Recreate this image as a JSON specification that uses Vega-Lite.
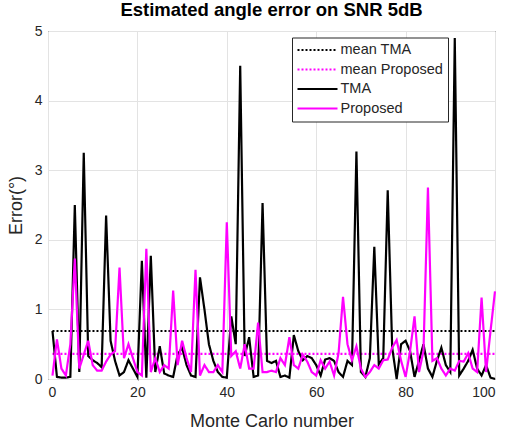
{
  "$schema": "https://vega.github.io/schema/vega-lite/v6.json",
  "width": 447,
  "height": 348,
  "autosize": {"type": "none"},
  "padding": {"left": 48, "top": 31, "right": 14, "bottom": 53},
  "background": "white",
  "title": {"text": "Estimated angle error on SNR 5dB", "font": "Liberation Sans", "fontSize": 18.5, "fontWeight": "bold", "color": "black", "offset": 5, "anchor": "middle"},
  "config": {
    "view": {"stroke": "black", "strokeWidth": 1},
    "axis": {"labelFont": "Liberation Sans", "titleFont": "Liberation Sans", "labelFontSize": 14, "titleFontSize": 18, "titleFontWeight": "normal", "labelColor": "#262626", "titleColor": "#262626", "gridColor": "#e3e3e3", "domain": false, "ticks": false, "labelPadding": 6}
  },
  "datasets": {
    "runs": [
      {"n":1,"TMA":0.69,"Proposed":0.05},{"n":2,"TMA":0.03,"Proposed":0.57},{"n":3,"TMA":0.02,"Proposed":0.15},{"n":4,"TMA":0.02,"Proposed":0.05},{"n":5,"TMA":0.03,"Proposed":0.5},
      {"n":6,"TMA":2.5,"Proposed":1.73},{"n":7,"TMA":0.1,"Proposed":0.15},{"n":8,"TMA":3.25,"Proposed":0.35},{"n":9,"TMA":0.33,"Proposed":0.55},{"n":10,"TMA":0.27,"Proposed":0.2},
      {"n":11,"TMA":0.23,"Proposed":0.12},{"n":12,"TMA":0.17,"Proposed":0.12},{"n":13,"TMA":2.35,"Proposed":0.25},{"n":14,"TMA":0.55,"Proposed":0.35},{"n":15,"TMA":0.26,"Proposed":0.4},
      {"n":16,"TMA":0.05,"Proposed":1.6},{"n":17,"TMA":0.1,"Proposed":0.3},{"n":18,"TMA":0.27,"Proposed":0.5},{"n":19,"TMA":0.15,"Proposed":0.3},{"n":20,"TMA":0.03,"Proposed":0.1},
      {"n":21,"TMA":1.7,"Proposed":0.05},{"n":22,"TMA":0.02,"Proposed":1.87},{"n":23,"TMA":1.77,"Proposed":0.1},{"n":24,"TMA":0.1,"Proposed":0.3},{"n":25,"TMA":0.47,"Proposed":0.1},
      {"n":26,"TMA":0.08,"Proposed":0.2},{"n":27,"TMA":0.05,"Proposed":0.15},{"n":28,"TMA":0.03,"Proposed":1.27},{"n":29,"TMA":0.35,"Proposed":0.2},{"n":30,"TMA":0.45,"Proposed":0.55},
      {"n":31,"TMA":0.2,"Proposed":0.3},{"n":32,"TMA":0.05,"Proposed":0.1},{"n":33,"TMA":0.03,"Proposed":1.57},{"n":34,"TMA":1.46,"Proposed":0.05},{"n":35,"TMA":1.0,"Proposed":0.2},
      {"n":36,"TMA":0.5,"Proposed":0.1},{"n":37,"TMA":0.26,"Proposed":0.1},{"n":38,"TMA":0.1,"Proposed":0.2},{"n":39,"TMA":0.03,"Proposed":0.1},{"n":40,"TMA":0.02,"Proposed":2.25},
      {"n":41,"TMA":0.9,"Proposed":0.33},{"n":42,"TMA":0.5,"Proposed":0.4},{"n":43,"TMA":4.5,"Proposed":0.15},{"n":44,"TMA":0.33,"Proposed":0.5},{"n":45,"TMA":0.6,"Proposed":0.15},
      {"n":46,"TMA":0.03,"Proposed":0.15},{"n":47,"TMA":0.05,"Proposed":0.81},{"n":48,"TMA":2.53,"Proposed":0.1},{"n":49,"TMA":0.26,"Proposed":0.1},{"n":50,"TMA":0.23,"Proposed":0.12},
      {"n":51,"TMA":0.26,"Proposed":0.1},{"n":52,"TMA":0.03,"Proposed":0.3},{"n":53,"TMA":0.05,"Proposed":0.2},{"n":54,"TMA":0.02,"Proposed":0.6},{"n":55,"TMA":0.63,"Proposed":0.2},
      {"n":56,"TMA":0.4,"Proposed":0.15},{"n":57,"TMA":0.27,"Proposed":0.35},{"n":58,"TMA":0.33,"Proposed":0.25},{"n":59,"TMA":0.3,"Proposed":0.1},{"n":60,"TMA":0.2,"Proposed":0.05},
      {"n":61,"TMA":0.05,"Proposed":0.27},{"n":62,"TMA":0.28,"Proposed":0.15},{"n":63,"TMA":0.3,"Proposed":0.25},{"n":64,"TMA":0.26,"Proposed":0.05},{"n":65,"TMA":0.1,"Proposed":0.37},
      {"n":66,"TMA":0.03,"Proposed":1.18},{"n":67,"TMA":0.26,"Proposed":0.5},{"n":68,"TMA":0.2,"Proposed":0.27},{"n":69,"TMA":3.27,"Proposed":0.47},{"n":70,"TMA":0.1,"Proposed":0.15},
      {"n":71,"TMA":0.03,"Proposed":0.03},{"n":72,"TMA":0.3,"Proposed":0.1},{"n":73,"TMA":1.9,"Proposed":0.2},{"n":74,"TMA":0.21,"Proposed":0.15},{"n":75,"TMA":0.3,"Proposed":0.27},
      {"n":76,"TMA":2.71,"Proposed":0.28},{"n":77,"TMA":0.45,"Proposed":0.45},{"n":78,"TMA":0.0,"Proposed":0.56},{"n":79,"TMA":0.5,"Proposed":0.26},{"n":80,"TMA":0.55,"Proposed":0.03},
      {"n":81,"TMA":0.4,"Proposed":0.4},{"n":82,"TMA":0.03,"Proposed":0.9},{"n":83,"TMA":0.26,"Proposed":0.1},{"n":84,"TMA":0.5,"Proposed":0.4},{"n":85,"TMA":0.15,"Proposed":2.75},
      {"n":86,"TMA":0.03,"Proposed":0.26},{"n":87,"TMA":0.26,"Proposed":0.3},{"n":88,"TMA":0.45,"Proposed":0.15},{"n":89,"TMA":0.2,"Proposed":0.05},{"n":90,"TMA":0.1,"Proposed":0.15},
      {"n":91,"TMA":4.9,"Proposed":0.12},{"n":92,"TMA":0.05,"Proposed":0.26},{"n":93,"TMA":0.15,"Proposed":0.25},{"n":94,"TMA":0.26,"Proposed":0.37},{"n":95,"TMA":0.42,"Proposed":0.15},
      {"n":96,"TMA":0.15,"Proposed":0.1},{"n":97,"TMA":0.05,"Proposed":1.17},{"n":98,"TMA":0.2,"Proposed":0.1},{"n":99,"TMA":0.02,"Proposed":0.69},{"n":100,"TMA":0.0,"Proposed":1.26}
    ],
    "means": [
      {"n":1,"series":"mean TMA","err":0.69},{"n":100,"series":"mean TMA","err":0.69},
      {"n":1,"series":"mean Proposed","err":0.36},{"n":100,"series":"mean Proposed","err":0.36}
    ]
  },
  "encoding": {
    "x": {"field": "n", "type": "quantitative", "title": "Monte Carlo number", "scale": {"domain": [0, 100], "nice": false}, "axis": {"values": [0, 20, 40, 60, 80, 100], "titlePadding": 13}},
    "y": {"field": "err", "type": "quantitative", "title": "Error(°)", "scale": {"domain": [0, 5], "nice": false}, "axis": {"values": [0, 1, 2, 3, 4, 5], "titlePadding": 9}},
    "color": {"field": "series", "type": "nominal", "title": null,
      "scale": {"domain": ["mean TMA", "mean Proposed", "TMA", "Proposed"], "range": ["#000000", "#ff00ff", "#000000", "#ff00ff"]},
      "legend": {"orient": "none", "legendX": 244, "legendY": 6.5, "strokeColor": "#262626", "fillColor": "white", "padding": 4.5, "clipHeight": 16, "symbolType": "M-1,0L1,0", "symbolSize": 1600, "symbolStrokeWidth": 2, "labelFont": "Liberation Sans", "labelFontSize": 14.5, "labelColor": "#262626", "rowPadding": 3.5, "labelOffset": 2, "cornerRadius": 0}},
    "strokeDash": {"field": "series", "type": "nominal",
      "scale": {"domain": ["mean TMA", "mean Proposed", "TMA", "Proposed"], "range": [[2, 2], [2, 2], [1, 0], [1, 0]]},
      "legend": null}
  },
  "layer": [
    {"data": {"name": "means"}, "mark": {"type": "line", "strokeWidth": 2.2}},
    {"data": {"name": "runs"}, "transform": [{"fold": ["TMA"], "as": ["series", "err"]}], "mark": {"type": "line", "strokeWidth": 2.2}},
    {"data": {"name": "runs"}, "transform": [{"fold": ["Proposed"], "as": ["series", "err"]}], "mark": {"type": "line", "strokeWidth": 2.2}}
  ]
}
